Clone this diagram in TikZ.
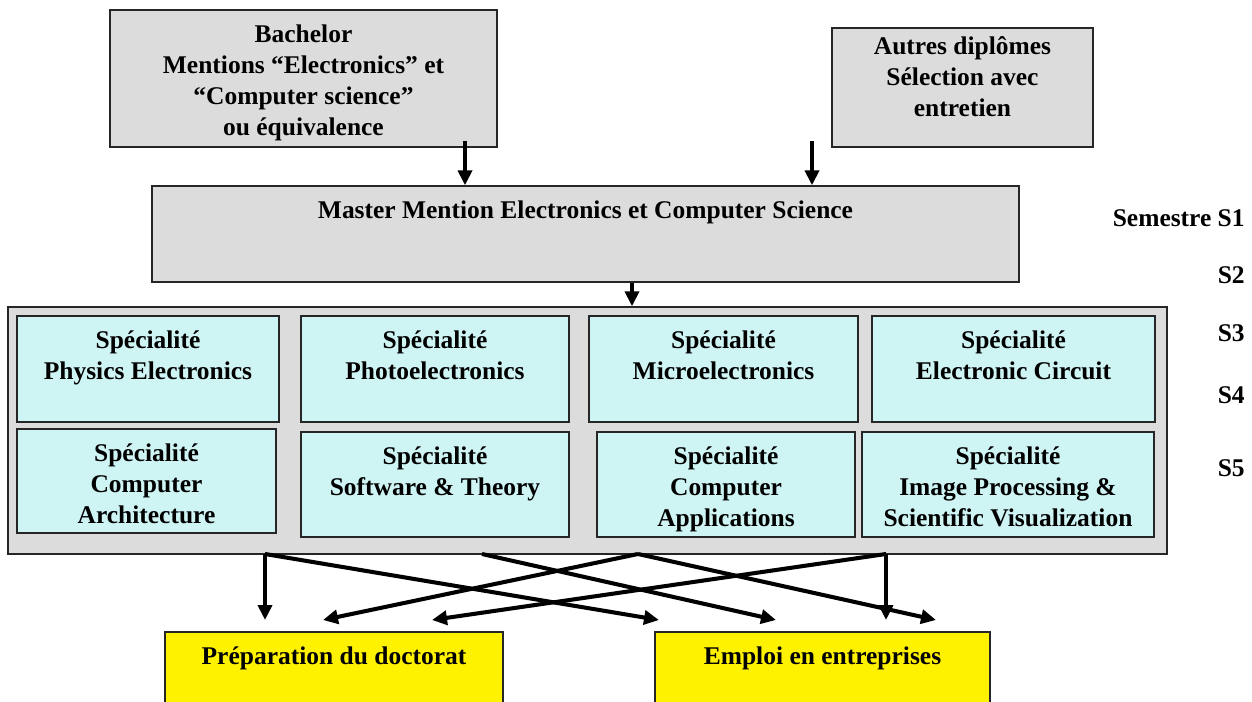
\documentclass[tikz,border=0pt]{standalone}
\usepackage{fontspec}
\setmainfont{Liberation Serif}
\usetikzlibrary{arrows.meta,fit}

\newcommand\tfont{\bfseries\fontsize{14.5}{17.6}\selectfont}

\tikzset{
  caja/.style={draw=black!85, line width=0.8pt, inner sep=0pt},
  gris/.style={caja, fill=grisfond},
  spec/.style={caja, fill=cian},
  jaune/.style={caja, fill=yellow},
  txt/.style={font=\tfont, align=center, anchor=north, inner sep=0pt},
  sem/.style={font=\tfont, anchor=east, inner sep=0pt},
  fleche/.style={line width=2.6pt, -{Triangle[length=0.3cm,width=0.28cm]}},
}

\begin{document}
\begin{tikzpicture}[x=0.02cm, y=-0.02cm]
    %colores
    \definecolor{grisfond}{RGB}{220,220,220}
    \definecolor{cian}{RGB}{207,244,244}
    \useasboundingbox (0,0) rectangle (1252,702);

    % entradas
    \node[gris, fit={(110,10) (497,147)}] (bach) {};
    \node[txt] (bacht) at ([yshift=-0.3cm]bach.north) {Bachelor\\Mentions “Electronics” et\\“Computer science”\\ou équivalence};
    \node[gris, fit={(832,28) (1093,147)}] (autres) {};
    \node[txt] (autrest) at ([yshift=-0.18cm]autres.north) {Autres diplômes\\Sélection avec\\entretien};

    % master
    \node[gris, fit={(152,186) (1019,282)}] (master) {};
    \node[txt] (mastert) at ([yshift=-0.3cm]master.north) {Master Mention Electronics et Computer Science};

    \coordinate (e1) at (465,141);
    \coordinate (e2) at (812,141);
    \coordinate (e3) at (632,283);
    \draw[fleche] (e1) -- (e1 |- master.north);
    \draw[fleche] (e2) -- (e2 |- master.north);

    % specialites
    \node[gris, fit={(8,307) (1167,554)}] (bloc) {};
    \draw[fleche] (e3 |- master.south) -- (e3 |- bloc.north);

    \node[spec, fit={(17,316) (279,422)}] (p1) {};
    \node[txt] (p1t) at ([yshift=-0.3cm]p1.north) {Spécialité\\Physics Electronics};
    \node[spec, fit={(301,316) (569,422)}] (p2) {};
    \node[txt] (p2t) at ([yshift=-0.3cm]p2.north) {Spécialité\\Photoelectronics};
    \node[spec, fit={(589,316) (858,422)}] (p3) {};
    \node[txt] (p3t) at ([yshift=-0.3cm]p3.north) {Spécialité\\Microelectronics};
    \node[spec, fit={(872,316) (1155,422)}] (p4) {};
    \node[txt] (p4t) at ([yshift=-0.3cm]p4.north) {Spécialité\\Electronic Circuit};

    \node[spec, fit={(17,429) (276,533)}] (c1) {};
    \node[txt] (c1t) at ([yshift=-0.3cm]c1.north) {Spécialité\\Computer\\Architecture};
    \node[spec, fit={(301,432) (569,537)}] (c2) {};
    \node[txt] (c2t) at ([yshift=-0.3cm]c2.north) {Spécialité\\Software \& Theory};
    \node[spec, fit={(597,432) (855,537)}] (c3) {};
    \node[txt] (c3t) at ([yshift=-0.3cm]c3.north) {Spécialité\\Computer\\Applications};
    \node[spec, fit={(862,432) (1154,537)}] (c4) {};
    \node[txt] (c4t) at ([yshift=-0.3cm]c4.north) {Spécialité\\Image Processing \&\\Scientific Visualization};

    % semestres
    \node[sem] (s1) at (1245,218) {Semestre S1};
    \node[sem] (s2) at (1245,275) {S2};
    \node[sem] (s3) at (1245,333) {S3};
    \node[sem] (s4) at (1245,395) {S4};
    \node[sem] (s5) at (1245,468) {S5};

    % debouches
    \node[jaune, fit={(165,632) (503,712)}] (doc) {};
    \node[txt] (doct) at ([yshift=-0.3cm]doc.north) {Préparation du doctorat};
    \node[jaune, fit={(655,632) (990,712)}] (emploi) {};
    \node[txt] (emploit) at ([yshift=-0.3cm]emploi.north) {Emploi en entreprises};

    \coordinate (d1) at (265,554);
    \coordinate (d2) at (482,554);
    \coordinate (d3) at (638,554);
    \coordinate (d4) at (886,554);
    \foreach \n/\x in {1/265,2/323,3/432,4/659,5/776,6/886,7/936}
        \coordinate (t\n) at (\x,620);
    \foreach \a/\b in {d1/t1,d1/t4,d2/t5,d3/t2,d3/t7,d4/t3,d4/t6}
        \draw[fleche, line width=2.3pt] (\a) -- (\b);
\end{tikzpicture}
\end{document}
